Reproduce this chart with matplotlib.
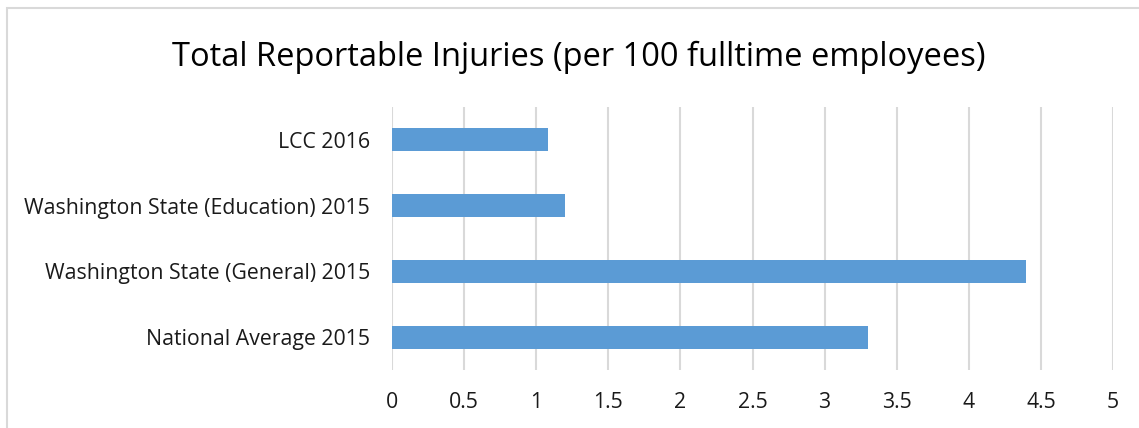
import matplotlib.pyplot as plt
from matplotlib.patches import Rectangle

# chart data
categories = ["LCC 2016", "Washington State (Education) 2015",
              "Washington State (General) 2015", "National Average 2015"]
values = [1.08, 1.2, 4.4, 3.3]
ticks = [0, 0.5, 1, 1.5, 2, 2.5, 3, 3.5, 4, 4.5, 5]
tick_labels = ["0", "0.5", "1", "1.5", "2", "2.5", "3", "3.5", "4", "4.5", "5"]

plt.rcParams['font.family'] = ['Open Sans', 'DejaVu Sans']

W, H = 1139, 428
fig = plt.figure(figsize=(W / 100, H / 100), dpi=100)

# light gray outer frame (right/bottom edges fall outside the image)
fig.patches.append(Rectangle((7 / W, -0.1), 1.2, 1 - 8 / H + 0.1,
                             transform=fig.transFigure, fill=False,
                             edgecolor="#d9d9d9", linewidth=1.5))

# axes placement in pixels: x 392..1113, y 107..370
ax = fig.add_axes([392 / W, 1 - 370 / H, (1113 - 392) / W, (370 - 107) / H])

ypos = list(range(len(categories)))
ax.barh(ypos, values, height=0.35, color="#5b9bd5", zorder=3)
ax.set_ylim(len(categories) - 0.5, -0.5)
ax.set_xlim(0, 5)

ax.set_xticks(ticks)
ax.set_xticklabels(tick_labels, fontsize=15.3, color="#1a1a1a")
ax.set_yticks(ypos)
ax.set_yticklabels(categories, fontsize=15.3, color="#1a1a1a")
ax.tick_params(length=0, pad=16, axis="y")
ax.tick_params(length=0, pad=16, axis="x")

ax.grid(axis="x", color="#d9d9d9", linewidth=1.5, zorder=0)
for s in ax.spines.values():
    s.set_visible(False)

fig.text(579 / W, 1 - 57 / H, "Total Reportable Injuries (per 100 fulltime employees)",
         ha="center", va="center", fontsize=23.5, color="#000000")

fig.savefig("out.png", dpi=100)
